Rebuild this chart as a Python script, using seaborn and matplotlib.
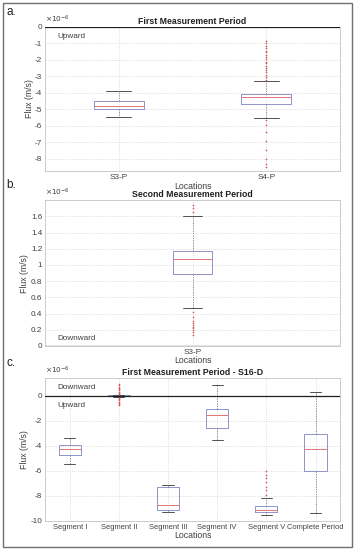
"""
Three-panel flux boxplots (MATLAB look) — seaborn.
Boxes come from five-number summaries, outliers drawn as red '+'.
"""
import numpy as np
import pandas as pd
import matplotlib
matplotlib.use("Agg")
import matplotlib.pyplot as plt
import seaborn as sns
from matplotlib.patches import Rectangle

# ---- data (units: 1e-6 m/s) ------------------------------------------
# five-number summary per box: [whisker low, q1, median, q3, whisker high]
A_CATS = ["S3-P", "S4-P"]
A_STATS = {
    "S3-P": [-5.45, -5.0, -4.8, -4.52, -3.88],
    "S4-P": [-5.5, -4.66, -4.25, -4.08, -3.3],
}
A_OUT = {
    "S3-P": [],
    "S4-P": [-0.85, -1.0, -1.15, -1.3, -1.45, -1.55, -1.7, -1.8, -1.95,
             -2.1, -2.2, -2.35, -2.5, -2.6, -2.75, -2.9, -3.05, -3.2,
             -5.65, -5.95, -6.35, -6.9, -7.5, -8.0, -8.3, -8.5],
}

B_CATS = ["S3-P"]
B_STATS = {"S3-P": [0.464, 0.89, 1.073, 1.173, 1.6]}
B_OUT = {"S3-P": [1.65, 1.70, 1.74, 0.42, 0.36, 0.31, 0.28, 0.26, 0.24,
                  0.22, 0.20, 0.17, 0.14]}

C_CATS = ["Segment I", "Segment II", "Segment III", "Segment IV",
          "Segment V", "Complete Period"]
C_STATS = {
    "Segment I": [-5.47, -4.75, -4.24, -3.91, -3.38],
    "Segment II": [-0.08, -0.03, 0.0, 0.05, 0.1],
    "Segment III": [-9.33, -9.17, -8.71, -7.32, -7.16],
    "Segment IV": [-3.49, -2.6, -1.55, -1.05, 0.91],
    "Segment V": [-9.54, -9.33, -9.14, -8.79, -8.2],
    "Complete Period": [-9.36, -6.0, -4.21, -3.06, 0.35],
}
C_OUT = {
    "Segment II": [0.95, 0.85, 0.75, 0.65, 0.55, 0.45, 0.35, 0.25, 0.18,
                   -0.15, -0.25, -0.35, -0.45, -0.55, -0.65, -0.75],
    "Segment V": [-6.0, -6.3, -6.6, -6.9, -7.25, -7.55, -7.9],
}

sns.set_style("white")
plt.rcParams["font.family"] = ["Liberation Sans", "DejaVu Sans"]

BOX_C = "#8f93c8"
MED_C = "#e07575"
OUT_C = "#d65a5a"
TXT_C = "#404040"
GRID_C = "#d4d4d4"
FS = 5.9


def to_frame(stats):
    rows = [(k, v) for k, vals in stats.items() for v in vals]
    return pd.DataFrame(rows, columns=["loc", "flux"])


def panel(ax, cats, stats, outs, width, title, letter, ylim, yticks, ytl):
    sns.boxplot(data=to_frame(stats), x="loc", y="flux", order=cats, ax=ax,
                whis=(0, 100), width=width, fill=False, color=BOX_C,
                linewidth=0.7, showfliers=False,
                medianprops={"color": MED_C, "linewidth": 0.7},
                whiskerprops={"color": "#808080", "linestyle": (0, (1.5, 1.5)),
                              "linewidth": 0.6},
                capprops={"color": "#505050", "linewidth": 0.7})
    out_df = to_frame(outs)
    if len(out_df):
        sns.stripplot(data=out_df, x="loc", y="flux", order=cats, ax=ax,
                      jitter=False, marker="+", color=OUT_C, size=1.8,
                      linewidth=0.45)
    ax.axhline(0, color="#202020", lw=0.9, zorder=3)
    ax.set_ylim(*ylim)
    ax.set_xlim(-0.5, len(cats) - 0.5)
    ax.set_yticks(yticks)
    ax.set_yticklabels(ytl)
    ax.grid(True, color=GRID_C, linestyle=":", linewidth=0.6)
    ax.set_axisbelow(True)
    for sp in ax.spines.values():
        sp.set_color("#c4c4c4")
        sp.set_linewidth(0.6)
    ax.tick_params(direction="in", length=2, width=0.5, colors="#c4c4c4",
                   labelcolor=TXT_C, labelsize=FS, pad=2)
    ax.set_xlabel("Locations", fontsize=6.3, color=TXT_C, labelpad=0.5)
    ax.set_ylabel("Flux (m/s)", fontsize=6.3, color=TXT_C, labelpad=1)
    ax.set_title(title, fontsize=6.3, fontweight="bold", color="#202020",
                 pad=2)
    ax.text(0.0, 1.012, r"$\times10^{-6}$", transform=ax.transAxes,
            fontsize=5.3, color=TXT_C, va="bottom", ha="left")
    ax.text(-0.13, 1.06, letter, transform=ax.transAxes, fontsize=8.5,
            color="#202020", va="bottom", ha="left")


fig = plt.figure(figsize=(3.58, 5.5), dpi=100)
ax_a = fig.add_axes([0.126, 0.689, 0.824, 0.262])
ax_b = fig.add_axes([0.126, 0.371, 0.824, 0.265])
ax_c = fig.add_axes([0.126, 0.053, 0.824, 0.260])

panel(ax_a, A_CATS, A_STATS, A_OUT, 0.34, "First Measurement Period", "a.",
      (-8.75, 0), np.arange(-8, 1), [str(v) for v in range(-8, 1)])
ax_a.text(0.04, 0.955, "Upward", transform=ax_a.transAxes, fontsize=FS,
          color=TXT_C, va="top")

panel(ax_b, B_CATS, B_STATS, B_OUT, 0.13, "Second Measurement Period", "b.",
      (0, 1.8), np.arange(0, 1.7, 0.2),
      ["0", "0.2", "0.4", "0.6", "0.8", "1", "1.2", "1.4", "1.6"])
ax_b.text(0.04, 0.03, "Downward", transform=ax_b.transAxes, fontsize=FS,
          color=TXT_C, va="bottom")

panel(ax_c, C_CATS, C_STATS, C_OUT, 0.45,
      "First Measurement Period - S16-D", "c.",
      (-10, 1.45), np.arange(-10, 1, 2), [str(v) for v in range(-10, 1, 2)])
ax_c.tick_params(axis="x", labelsize=5.4)
ytrans = ax_c.get_yaxis_transform()
ax_c.text(0.04, 0.7, "Downward", transform=ytrans, fontsize=FS,
          color=TXT_C, va="center")
ax_c.text(0.04, -0.75, "Upward", transform=ytrans, fontsize=FS,
          color=TXT_C, va="center")

# outer frame
fig.patches.append(Rectangle((3 / 358, 3 / 550), 349 / 358, 544 / 550,
                             transform=fig.transFigure, fill=False,
                             edgecolor="#707070", linewidth=1.0))

fig.savefig("out.png", dpi=100)
plt.close(fig)
